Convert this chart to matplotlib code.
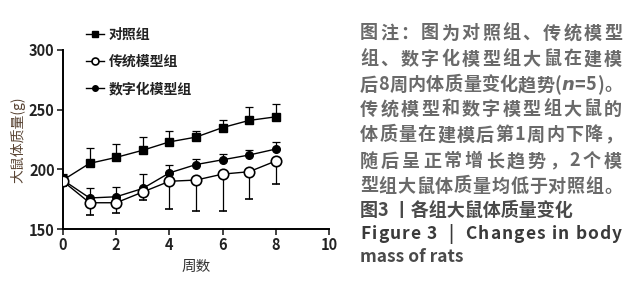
import matplotlib
matplotlib.use("Agg")
import matplotlib.pyplot as plt
from matplotlib.lines import Line2D

# 字体: 中文优先, 缺字时回退 DejaVu
plt.rcParams['font.family'] = ['Noto Sans CJK SC', 'DejaVu Sans']

# 数据 (从图中读取, 单位 g)
weeks = [0, 1, 2, 3, 4, 5, 6, 7, 8]
ctrl_mean = [191, 205, 210, 216, 223, 227, 235, 241, 244]
ctrl_err = [5, 13, 11, 11, 9, 5, 6, 11, 11]
trad_mean = [190, 172, 172, 181, 190, 191, 196, 198, 207]
trad_err = [4, 10, 9, 7, 23, 26, 31, 23, 19]
digi_mean = [191, 176, 177, 184, 197, 204, 208, 212, 217]
digi_err = [4, 8, 8, 12, 7, 5, 5, 4, 6]

group_labels = ["对照组", "传统模型组", "数字化模型组"]
x_ticks = [0, 2, 4, 6, 8, 10]
y_ticks = [150, 200, 250, 300]

# 图注文字 (每行)
caption_lines = [
    "图注：图为对照组、传统模型",
    "组、数字化模型组大鼠在建模",
    "后8周内体质量变化趋势(n=5)。",
    "传统模型和数字模型组大鼠的",
    "体质量在建模后第1周内下降，",
    "随后呈正常增长趋势，2个模",
    "型组大鼠体质量均低于对照组。",
]
fig_title_cn = "图3 丨各组大鼠体质量变化"
fig_title_en = ["Figure 3  |  Changes in body", "mass of rats"]

W, H = 633, 300
fig = plt.figure(figsize=(W / 100, H / 100), dpi=100)
ax = fig.add_axes([63 / W, 1 - 229 / H, (329 - 63) / W, (229 - 50) / H])

zeros = [0] * len(weeks)
ebkw = dict(color="black", lw=1.0, elinewidth=0.9, capsize=3, capthick=0.9)

# 对照组: 实心方块, 误差向上
ax.errorbar(weeks, ctrl_mean, yerr=[zeros, ctrl_err], marker="s", ms=6,
            mfc="black", mec="black", zorder=3, **ebkw)
# 数字化模型组: 实心圆, 误差向上
ax.errorbar(weeks, digi_mean, yerr=[zeros, digi_err], marker="o", ms=5.5,
            mfc="black", mec="black", zorder=3, **ebkw)
# 传统模型组: 空心圆, 误差向下
ax.errorbar(weeks, trad_mean, yerr=[trad_err, zeros], marker="o", ms=7.5,
            mfc="white", mec="black", mew=1.2, zorder=4, **ebkw)

ax.set_xlim(0, 10)
ax.set_ylim(150, 300)
ax.set_xticks(x_ticks)
ax.set_yticks(y_ticks)
for s in ["top", "right"]:
    ax.spines[s].set_visible(False)
for s in ["left", "bottom"]:
    ax.spines[s].set_linewidth(1.4)
ax.tick_params(direction="out", length=4, width=1.2, labelsize=10.5,
               colors="#222222", pad=2)
for lab in ax.get_xticklabels() + ax.get_yticklabels():
    lab.set_fontweight("bold")

fig.text(18 / W, 1 - 140 / H, "大鼠体质量(g)", rotation=90, ha="center",
         va="center", fontsize=10, color="#5a4535")
fig.text(196 / W, 1 - 267 / H, "周数", ha="center", va="center",
         fontsize=10.5, color="#333333")

# 图例
handles = [
    Line2D([], [], color="black", lw=1, marker="s", ms=4.5, mfc="black"),
    Line2D([], [], color="black", lw=1, marker="o", ms=5, mfc="white", mew=1.2),
    Line2D([], [], color="black", lw=1, marker="o", ms=4, mfc="black"),
]
leg = fig.legend(handles, group_labels, loc="upper left",
                 bbox_to_anchor=(80 / W, 1 - 22 / H), frameon=False,
                 handlelength=1.3, handletextpad=0.35, labelspacing=0.95,
                 borderaxespad=0, prop={"size": 10, "weight": "bold"})
for t in leg.get_texts():
    t.set_color("#222222")

# 右侧图注: 两端对齐 (逐字放置)
fig.canvas.draw()
renderer = fig.canvas.get_renderer()


def justify(line, x0, x1, yc, **kw):
    texts = []
    italic_n = "(n=" in line
    for ch in line:
        if ch == "n" and italic_n:
            t = fig.text(0, yc, ch, va="center", ha="left", style="italic",
                         family="DejaVu Sans", **kw)
        else:
            t = fig.text(0, yc, ch, va="center", ha="left", **kw)
        texts.append(t)
    widths = [t.get_window_extent(renderer).width for t in texts]
    gap = (x1 - x0 - sum(widths)) / max(len(texts) - 1, 1)
    x = x0
    for t, w in zip(texts, widths):
        t.set_x(x / W)
        x += w + gap


line_y = [33, 59, 85, 109, 135, 161, 186]
for line, y in zip(caption_lines, line_y):
    justify(line, 360, 622, 1 - y / H, fontsize=13, fontweight="bold",
            color="#6a6a6a")

fig.text(360 / W, 1 - 210 / H, fig_title_cn, va="center", ha="left",
         fontsize=13, fontweight="bold", color="#4a4a4a")
justify(fig_title_en[0], 360, 622, 1 - 234 / H, fontsize=12.5,
        fontweight="bold", color="#3a3a3a")
fig.text(360 / W, 1 - 257 / H, fig_title_en[1], va="center", ha="left",
         fontsize=12.5, fontweight="bold", color="#4a4a4a")

fig.savefig("out.png", dpi=100)
